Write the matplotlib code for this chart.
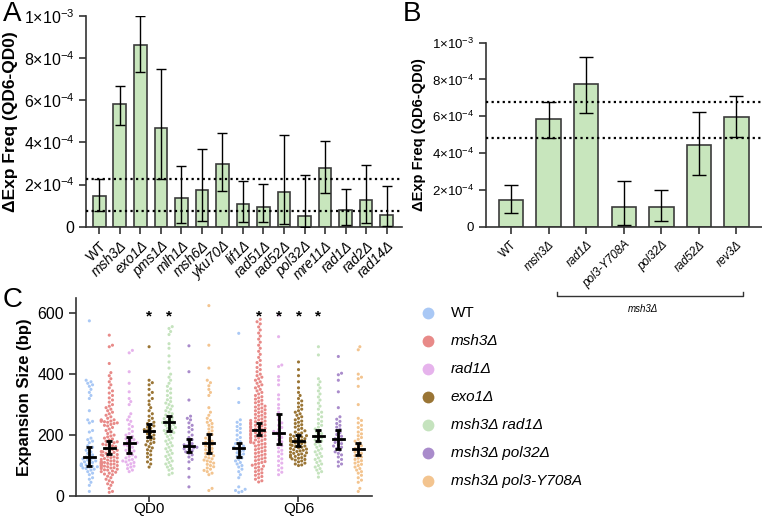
import numpy as np
import matplotlib
matplotlib.use("Agg")
import matplotlib.pyplot as plt
from matplotlib.lines import Line2D

plt.rcParams["font.family"] = ["Liberation Sans", "DejaVu Sans"]
plt.rcParams["mathtext.fontset"] = "custom"
plt.rcParams["mathtext.rm"] = "Liberation Sans"
plt.rcParams["mathtext.it"] = "Liberation Sans:italic"
plt.rcParams["mathtext.bf"] = "Liberation Sans:bold"

# ---- panel A data (x1e-3) ----
a_labels = ["WT", "msh3Δ", "exo1Δ", "pms1Δ", "mlh1Δ", "msh6Δ", "yku70Δ", "lif1Δ",
            "rad51Δ", "rad52Δ", "pol32Δ", "mre11Δ", "rad1Δ", "rad2Δ", "rad14Δ"]
a_vals = [0.145, 0.580, 0.861, 0.466, 0.137, 0.174, 0.297, 0.106,
          0.095, 0.166, 0.050, 0.280, 0.079, 0.125, 0.055]
a_hi = [0.224, 0.668, 0.997, 0.747, 0.287, 0.366, 0.442, 0.218,
        0.202, 0.436, 0.245, 0.406, 0.180, 0.292, 0.193]
a_lo = [0.076, 0.480, 0.731, 0.227, 0.016, 0.028, 0.167, 0.020,
        0.020, 0.011, 0.000, 0.158, 0.006, 0.017, 0.005]
a_ref = [0.224, 0.076]

# ---- panel B data (x1e-3) ----
b_labels = ["WT", "msh3Δ", "rad1Δ", "pol3-Y708A", "pol32Δ", "rad52Δ", "rev3Δ"]
b_vals = [0.145, 0.583, 0.777, 0.105, 0.107, 0.446, 0.596]
b_hi = [0.225, 0.676, 0.924, 0.246, 0.199, 0.621, 0.708]
b_lo = [0.076, 0.484, 0.618, 0.009, 0.031, 0.281, 0.487]
b_ref = [0.676, 0.484]

# ---- panel C data (expansion size, bp) ----
strains = ["WT", "msh3Δ", "rad1Δ", "exo1Δ", "msh3Δ rad1Δ", "msh3Δ pol32Δ", "msh3Δ pol3-Y708A"]
colors = ["#a9c8f5", "#e88a88", "#e6b3ec", "#9a7535", "#c5e3be", "#a98bcb", "#f3c48f"]
timepoints = ["QD0", "QD6"]

wt_qd0 = [575, 380, 375, 370, 365, 360, 350, 340, 330, 320, 280, 250, 245, 240, 215, 210, 190,
          185, 180, 175, 165, 160, 155, 150, 145, 140, 135, 130, 128, 125, 122, 120, 118, 115,
          112, 110, 108, 105, 104, 102, 100, 100, 100, 98, 96, 95, 92, 90, 88, 85, 80, 75, 70,
          60, 55, 45, 35, 15]
msh3_qd0 = [528, 495, 490, 435, 405, 395, 385, 375, 365, 355, 345, 338, 330, 322, 315, 308, 300,
            295, 290, 285, 280, 275, 270, 265, 260, 255, 250, 250, 248, 246, 245, 244, 242, 240,
            238, 235, 232, 230, 225, 220, 215, 210, 205, 200, 197, 194, 190, 187, 184, 180, 178,
            175, 172, 170, 168, 165, 162, 160, 155, 153, 150, 148, 146, 145, 143, 140, 138, 136,
            135, 133, 130, 128, 126, 125, 123, 120, 118, 116, 115, 113, 112, 110, 110, 108, 107,
            106, 105, 104, 102, 100, 100, 98, 96, 95, 93, 92, 90, 88, 86, 85, 82, 80, 78, 75, 72,
            70, 65, 60, 55, 50, 45, 40, 35, 25, 15, 12]
rad1_qd0 = [478, 470, 408, 370, 342, 320, 310, 300, 270, 260, 250, 245, 235, 228, 220, 212, 205,
            200, 196, 192, 188, 185, 182, 178, 175, 173, 170, 168, 165, 160, 155, 150, 148, 145,
            140, 135, 130, 128, 125, 120, 118, 115, 112, 110, 106, 102, 98, 95, 90, 85, 80]
exo1_qd0 = [490, 380, 372, 365, 350, 340, 332, 320, 312, 300, 290, 280, 270, 262, 255, 248, 242,
            238, 234, 230, 226, 222, 218, 215, 212, 208, 204, 200, 196, 192, 188, 184, 180, 176,
            172, 168, 162, 158, 152, 148, 140, 135, 128, 120, 112, 105, 95]
mr_qd0 = [556, 550, 540, 530, 500, 485, 460, 440, 420, 400, 390, 380, 370, 360, 352, 345, 338,
          330, 322, 316, 310, 305, 300, 295, 290, 285, 280, 275, 270, 266, 262, 258, 254, 250,
          247, 244, 241, 238, 235, 232, 228, 225, 222, 218, 215, 212, 208, 205, 200, 195, 190,
          185, 180, 175, 170, 165, 160, 155, 150, 145, 140, 135, 130, 125, 120, 115, 110, 105,
          100, 95, 90, 85, 75, 70]
p32_qd0 = [493, 408, 315, 262, 255, 250, 240, 232, 225, 218, 210, 200, 192, 185, 178, 172, 168,
           165, 162, 160, 158, 155, 152, 148, 145, 140, 135, 128, 120, 112, 90, 62, 30]
p3_qd0 = [625, 495, 420, 380, 372, 362, 350, 340, 330, 290, 275, 265, 255, 248, 242, 238, 232,
          226, 220, 214, 208, 202, 196, 190, 185, 180, 176, 172, 168, 164, 160, 156, 152, 148,
          145, 140, 136, 132, 128, 125, 122, 118, 115, 112, 108, 104, 100, 96, 92, 88, 84, 80,
          75, 70, 25, 18]
wt_qd6 = [534, 353, 307, 250, 242, 235, 228, 222, 215, 208, 200, 192, 185, 178, 172, 168, 164,
          160, 157, 154, 150, 146, 142, 138, 135, 130, 125, 120, 115, 110, 105, 100, 95, 88, 80,
          70, 60, 30, 22, 18, 15, 12]
msh3_qd6 = [580, 572, 565, 555, 545, 535, 525, 515, 505, 495, 485, 475, 465, 455, 445, 438, 430,
            422, 415, 408, 400, 395, 390, 385, 380, 375, 370, 365, 360, 355, 350, 345, 340, 335,
            330, 326, 322, 318, 314, 310, 306, 302, 298, 295, 292, 289, 286, 283, 280, 277, 274,
            271, 268, 265, 262, 259, 256, 253, 250, 248, 246, 244, 242, 240, 238, 236, 234, 232,
            230, 228, 226, 224, 222, 220, 218, 216, 214, 212, 210, 208, 206, 204, 202, 200, 198,
            196, 194, 192, 190, 188, 186, 184, 182, 180, 178, 176, 174, 172, 170, 167, 164, 161,
            158, 155, 152, 149, 146, 143, 140, 137, 134, 131, 128, 125, 122, 119, 116, 113, 110,
            107, 104, 101, 98, 95, 92, 88, 84, 80, 76, 72, 68, 64, 60, 55, 50, 46]
rad1_qd6 = [594, 523, 430, 425, 392, 380, 365, 332, 318, 300, 288, 275, 262, 250, 240, 232, 225,
            218, 212, 208, 204, 198, 192, 185, 178, 170, 165, 158, 150, 145, 138, 130, 122, 115,
            108, 100, 92, 85, 78, 70]
exo1_qd6 = [440, 415, 395, 375, 355, 340, 330, 320, 312, 305, 298, 292, 285, 280, 275, 270, 265,
            260, 255, 250, 246, 242, 238, 234, 230, 226, 222, 218, 214, 210, 207, 204, 201, 198,
            196, 194, 192, 190, 188, 186, 184, 183, 181, 180, 178, 176, 174, 172, 170, 168, 166,
            164, 162, 160, 158, 156, 154, 152, 150, 148, 146, 144, 142, 140, 138, 136, 134, 132,
            130, 128, 126, 124, 122, 120, 118, 115, 112, 108, 105, 102, 100]
mr_qd6 = [490, 463, 385, 375, 365, 355, 345, 335, 325, 315, 305, 295, 285, 275, 268, 260, 252,
          245, 238, 232, 226, 220, 215, 210, 205, 200, 196, 192, 188, 184, 180, 175, 170, 165,
          160, 155, 150, 145, 140, 135, 130, 125, 120, 115, 110, 105, 100, 95, 90, 85, 80, 75, 62]
p32_qd6 = [458, 403, 398, 380, 342, 290, 260, 252, 245, 238, 232, 226, 220, 214, 208, 202, 196,
           192, 188, 184, 180, 176, 172, 168, 164, 160, 156, 150, 145, 140, 135, 128, 120, 112,
           105, 98]
p3_qd6 = [490, 480, 400, 390, 385, 360, 300, 255, 248, 240, 232, 225, 218, 210, 204, 198, 192,
          186, 180, 175, 170, 165, 160, 156, 152, 148, 144, 140, 136, 132, 128, 124, 120, 116,
          112, 108, 104, 100, 95, 90, 85, 80, 75, 68, 60, 52, 45, 25, 15]

qd0_sets = [wt_qd0, msh3_qd0, rad1_qd0, exo1_qd0, mr_qd0, p32_qd0, p3_qd0]
qd6_sets = [wt_qd6, msh3_qd6, rad1_qd6, exo1_qd6, mr_qd6, p32_qd6, p3_qd6]
# medians with 95% CI
qd0_med = [129, 157, 173, 215, 244, 165, 173]
qd0_hi = [162, 181, 195, 235, 263, 186, 204]
qd0_lo = [100, 138, 142, 194, 215, 146, 140]
qd6_med = [157, 217, 208, 182, 198, 186, 153]
qd6_hi = [175, 241, 268, 200, 218, 217, 173]
qd6_lo = [129, 200, 171, 165, 180, 154, 136]
qd0_sig = [False, False, False, True, True, False, False]
qd6_sig = [False, True, True, True, True, False, False]

W, H = 762, 519
fig = plt.figure(figsize=(W / 100, H / 100), dpi=100)


def px_axes(l, t, r, b):
    return fig.add_axes([l / W, 1 - b / H, (r - l) / W, (b - t) / H])


def style(ax):
    for s in ["top", "right"]:
        ax.spines[s].set_visible(False)
    for s in ["left", "bottom"]:
        ax.spines[s].set_linewidth(1.2)
        ax.spines[s].set_color("#333333")
    ax.tick_params(direction="out", length=5, width=1.2, color="#333333")


def sci(v):
    if v == 0:
        return "0"
    if abs(v - 1.0) < 1e-9:
        return "1×10$^{-3}$"
    return "%d×10$^{-4}$" % round(v * 10)


bar_fill = "#c8e6bd"
bar_edge = "#3c3c3c"

# ---------------- A ----------------
axA = px_axes(86, 15.7, 402, 226.7)
xa = np.arange(len(a_labels))
va = np.array(a_vals)
axA.bar(xa, va, width=0.62, color=bar_fill, edgecolor=bar_edge, linewidth=1.2, zorder=2)
axA.errorbar(xa, va, yerr=[va - np.array(a_lo), np.array(a_hi) - va], fmt="none",
             ecolor="black", elinewidth=1, capsize=3.5, capthick=1, zorder=3)
for r in a_ref:
    axA.axhline(r, color="black", ls=(0, (1, 1.5)), lw=1.6, zorder=4)
axA.set_xlim(-0.65, 14.75)
axA.set_ylim(0, 1.0)
yt = [0, 0.2, 0.4, 0.6, 0.8, 1.0]
axA.set_yticks(yt)
axA.set_yticklabels([sci(v) for v in yt], fontsize=11.5)
axA.set_xticks(xa)
axA.set_xticklabels(a_labels, rotation=45, ha="right", rotation_mode="anchor", fontsize=10)
for t in axA.get_xticklabels():
    if t.get_text() != "WT":
        t.set_style("italic")
axA.set_ylabel("ΔExp Freq (QD6-QD0)", fontsize=12.5, fontweight="bold", labelpad=4)
style(axA)

# ---------------- B ----------------
axB = px_axes(486, 42.7, 762, 226.7)
xb = np.arange(len(b_labels))
vb = np.array(b_vals)
axB.bar(xb, vb, width=0.65, color=bar_fill, edgecolor=bar_edge, linewidth=1.2, zorder=2)
axB.errorbar(xb, vb, yerr=[vb - np.array(b_lo), np.array(b_hi) - vb], fmt="none",
             ecolor="black", elinewidth=1, capsize=5, capthick=1, zorder=3)
for r in b_ref:
    axB.axhline(r, color="black", ls=(0, (1, 1.5)), lw=1.6, zorder=4)
axB.set_xlim(-0.665, 6.68)
axB.set_ylim(0, 1.0)
axB.set_yticks(yt)
axB.set_yticklabels([sci(v) for v in yt], fontsize=9.5)
axB.set_xticks(xb)
axB.set_xticklabels(b_labels, rotation=45, ha="right", rotation_mode="anchor", fontsize=8.5)
for t in axB.get_xticklabels():
    if t.get_text() != "WT":
        t.set_style("italic")
axB.set_ylabel("ΔExp Freq (QD6-QD0)", fontsize=10.5, fontweight="bold", labelpad=4)
style(axB)
# bracket under the msh3Δ double mutants
tr = axB.get_xaxis_transform()
by = -0.375
axB.plot([1.22, 1.22, 6.17, 6.17], [by + 0.02, by, by, by + 0.02], color="#333333",
         lw=1, transform=tr, clip_on=False)
axB.text(3.52, by - 0.045, "msh3Δ", style="italic", fontsize=7, ha="center", va="top",
         transform=tr)

# ---------------- C ----------------
axC = px_axes(76, 298, 372, 496)
axC.set_xlim(-0.67, 14.19)
axC.set_ylim(0, 650)
xpx = 296 / (14.19 + 0.67)
ypx = 198 / 650.0


def swarm(vals, center, d=3.2, maxw=9.5):
    order = np.argsort(vals)
    ys = np.asarray(vals, float) * ypx
    offs = np.zeros(len(vals))
    placed = []
    for i in order:
        y = ys[i]
        near = [(xo, yo) for xo, yo in placed if abs(yo - y) < d]
        cands = [0.0]
        k = 1
        while k * 0.5 * d <= maxw:
            cands += [k * 0.5 * d, -k * 0.5 * d]
            k += 1
        chosen = cands[-1]
        for c in cands:
            if all((xo - c) ** 2 + (yo - y) ** 2 >= d * d for xo, yo in near):
                chosen = c
                break
        placed.append((chosen, y))
        offs[i] = chosen
    return center + offs / xpx


for g, (sets, meds, his, los, sig) in enumerate([(qd0_sets, qd0_med, qd0_hi, qd0_lo, qd0_sig),
                                                  (qd6_sets, qd6_med, qd6_hi, qd6_lo, qd6_sig)]):
    base = 0 if g == 0 else 7.5
    for i, vals in enumerate(sets):
        pos = base + i
        xs = swarm(vals, pos)
        axC.scatter(xs, vals, s=5, color=colors[i], edgecolors="none", zorder=2, clip_on=False)
        axC.errorbar([pos], [meds[i]], yerr=[[meds[i] - los[i]], [his[i] - meds[i]]],
                     fmt="none", ecolor="black", elinewidth=2, capsize=2.5, capthick=2, zorder=4)
        axC.plot([pos - 0.27, pos + 0.27], [meds[i], meds[i]], color="black", lw=2, zorder=4)
        if sig[i]:
            axC.text(pos, 590, "*", ha="center", va="center", fontsize=11, fontweight="bold")

axC.set_yticks([0, 200, 400, 600])
axC.set_yticklabels(["0", "200", "400", "600"], fontsize=11.5)
axC.set_xticks([3, 10.5])
axC.set_xticklabels(timepoints, fontsize=11)
axC.set_ylabel("Expansion Size (bp)", fontsize=12, fontweight="bold", labelpad=4)
style(axC)
axC.tick_params(axis="x", length=4, pad=0.5)

# legend for panel C
for i, name in enumerate(strains):
    yy = 1 - (312.7 + i * 28.0) / H
    fig.add_artist(Line2D([427.7 / W], [yy], marker="o", markersize=8.5, color=colors[i],
                          markeredgecolor="none", linestyle="none", transform=fig.transFigure))
    fig.text(450.7 / W, yy, name, fontsize=11, va="center", ha="left",
             style="normal" if name == "WT" else "italic")

# panel letters
fig.text(3 / W, 1 - 14 / H, "A", fontsize=20, va="center", ha="left")
fig.text(403 / W, 1 - 14 / H, "B", fontsize=20, va="center", ha="left")
fig.text(3 / W, 1 - 300 / H, "C", fontsize=20, va="center", ha="left")

fig.savefig("out.png", dpi=100)
